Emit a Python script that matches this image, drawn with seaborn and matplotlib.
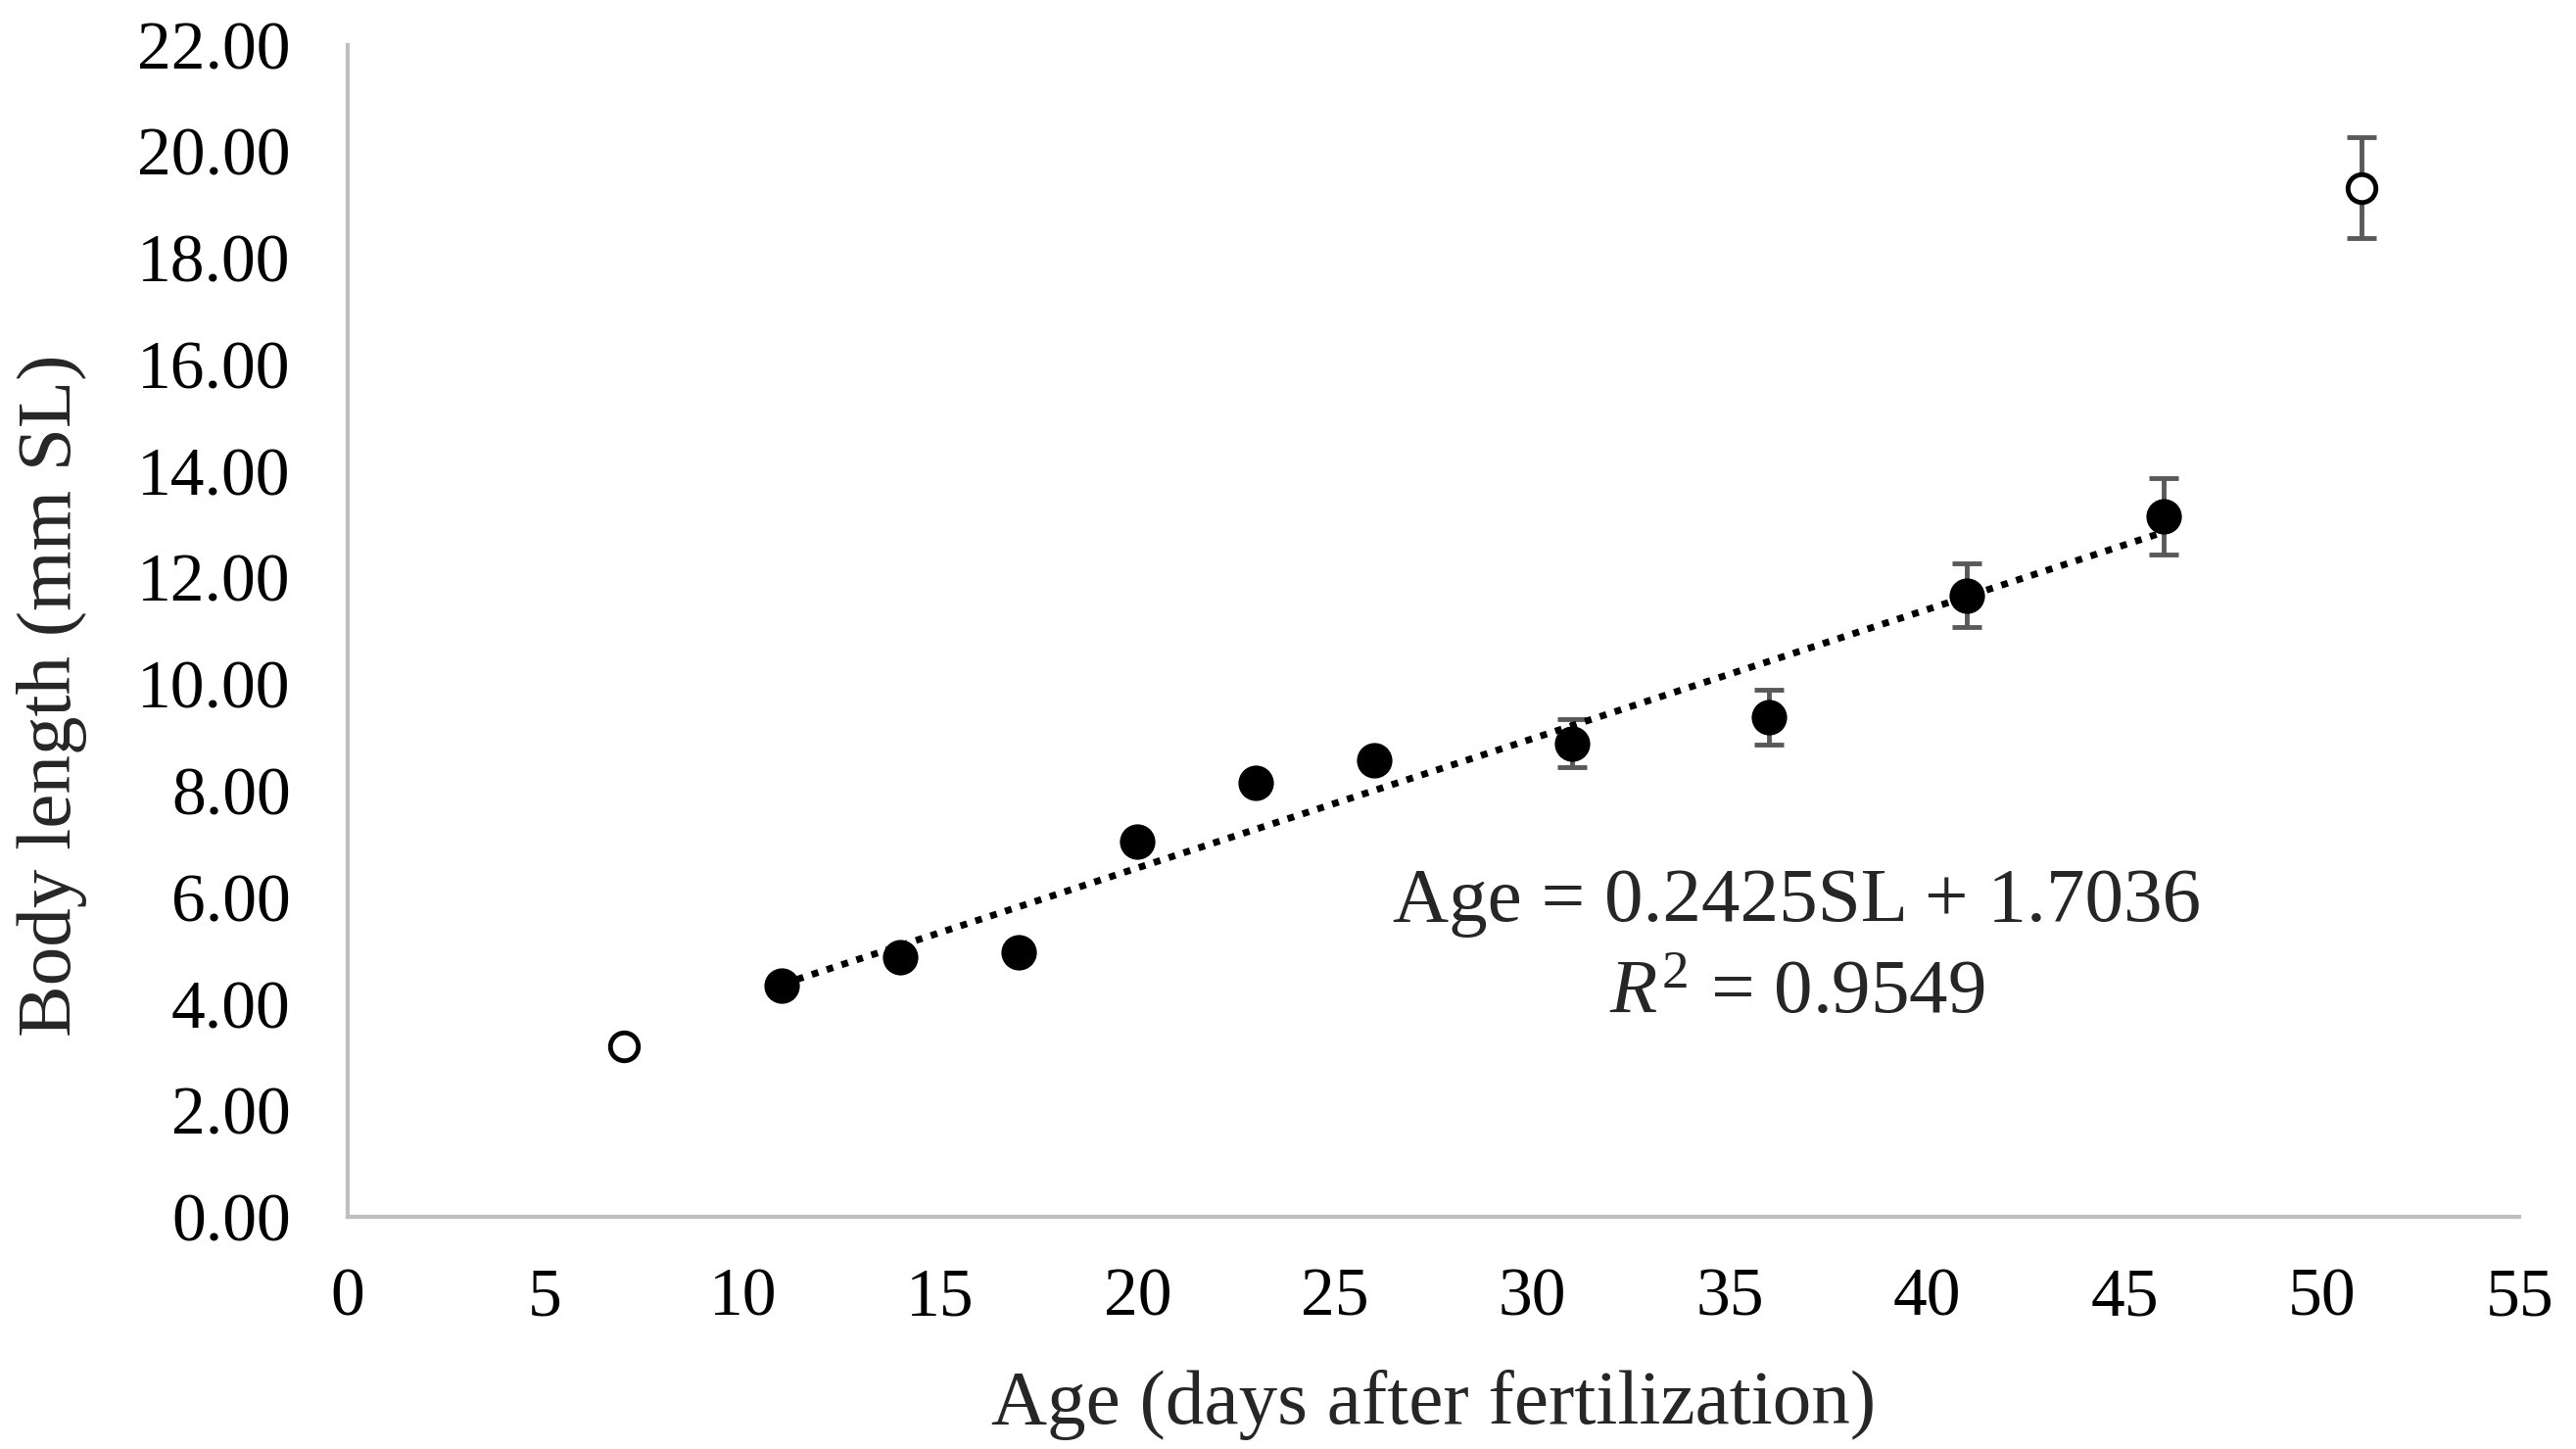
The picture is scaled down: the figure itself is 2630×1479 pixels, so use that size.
import numpy as np
import pandas as pd
import matplotlib
matplotlib.use("Agg")
import matplotlib.pyplot as plt
import seaborn as sns

# -------------------------------------------
# Data
# -------------------------------------------
age_fit = [11, 14, 17, 20, 23, 26, 31, 36, 41, 46]
sl_fit = [4.35, 4.88, 4.97, 7.04, 8.15, 8.58, 8.89, 9.38, 11.67, 13.15]
err_fit = [0, 0, 0, 0, 0, 0, 0.45, 0.52, 0.60, 0.72]

age_out = [7, 51]
sl_out = [3.20, 19.32]
err_out = [0, 0.95]

slope = 0.2425
intercept = 1.7036
r2 = 0.9549

x_ticks = list(range(0, 60, 5))
y_ticks = [0, 2, 4, 6, 8, 10, 12, 14, 16, 18, 20, 22]

fit_df = pd.DataFrame({"age": age_fit, "sl": sl_fit, "err": err_fit})
out_df = pd.DataFrame({"age": age_out, "sl": sl_out, "err": err_out})

# -------------------------------------------
# Style
# -------------------------------------------
sns.set_style("white")
plt.rcParams["font.family"] = ["Liberation Serif", "DejaVu Serif"]
plt.rcParams["mathtext.fontset"] = "custom"
plt.rcParams["mathtext.rm"] = "Liberation Serif"
plt.rcParams["mathtext.it"] = "Liberation Serif:italic"

fig = plt.figure(figsize=(26.30, 14.79), dpi=100)
ax = fig.add_axes([0.135, 0.160, 0.843, 0.809])

grey = "#595959"

# error bars first so markers sit on top
for d in (fit_df, out_df):
    sub = d[d["err"] > 0]
    ax.errorbar(sub["age"], sub["sl"], yerr=sub["err"], fmt="none",
                ecolor=grey, elinewidth=3.5, capsize=11, capthick=3.5, zorder=2)

# trend line for the fitted stages
x_line = np.array([min(age_fit), max(age_fit)])
ax.plot(x_line, slope * x_line + intercept, color="black",
        linestyle=(0, (1, 1.3)), linewidth=5, zorder=3)

sns.scatterplot(data=fit_df, x="age", y="sl", ax=ax, color="black",
                s=680, edgecolor="black", linewidth=0, zorder=4)
sns.scatterplot(data=out_df, x="age", y="sl", ax=ax, facecolor="white",
                s=420, edgecolor="black", linewidth=3.5, zorder=4)

ax.set_xlim(0, 55)
ax.set_ylim(0, 22)
ax.set_xticks(x_ticks)
ax.set_yticks(y_ticks)
ax.set_yticklabels([f"{v:.2f}" for v in y_ticks])
ax.tick_params(axis="both", length=0, labelsize=50, colors="black")
ax.tick_params(axis="y", pad=42)
ax.tick_params(axis="x", pad=37)

sns.despine(ax=ax)
for side in ("left", "bottom"):
    ax.spines[side].set_color("#BFBFBF")
    ax.spines[side].set_linewidth(3)

ax.set_xlabel("Age (days after fertilization)", fontsize=57)
ax.set_ylabel("Body length (mm SL)", fontsize=57)
ax.xaxis.set_label_coords(0.50, -0.13)
ax.yaxis.set_label_coords(-0.12, 0.445)

ax.text(36.7, 5.9, f"Age = {slope}SL + {intercept}", fontsize=57,
        ha="center", va="center")
ax.text(36.7, 4.2, r"$\mathit{R}^{2}$" + f" = {r2}", fontsize=57,
        ha="center", va="center")

plt.savefig("out.png", dpi=100)
